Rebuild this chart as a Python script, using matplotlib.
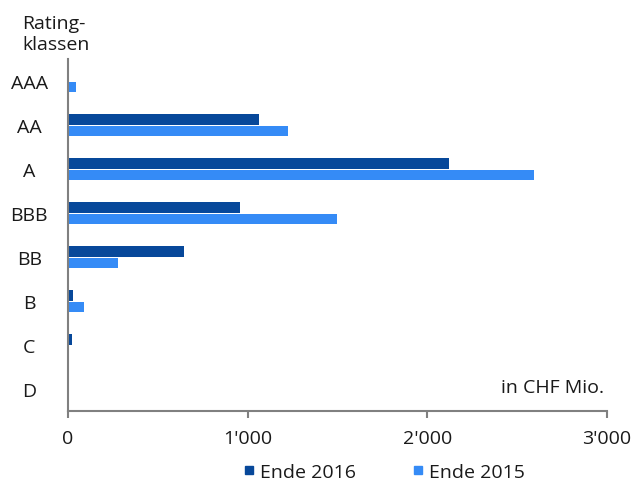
import numpy as np
import matplotlib
matplotlib.use("Agg")
import matplotlib.pyplot as plt
from matplotlib.lines import Line2D

plt.rcParams['font.family'] = ['Open Sans', 'DejaVu Sans']

categories = ["AAA", "AA", "A", "BBB", "BB", "B", "C", "D"]
ende_2016 = [0, 1065, 2120, 960, 645, 26, 24, 0]
ende_2015 = [45, 1225, 2595, 1500, 277, 91, 0, 0]
xticks = [0, 1000, 2000, 3000]
xtick_labels = ["0", "1'000", "2'000", "3'000"]

dark = "#07489A"
light = "#358BF6"
grey = "#808080"
txt = "#1a1a1a"
fs = 14

fig = plt.figure(figsize=(6.34, 4.89), dpi=100)
ax = fig.add_axes([0.1073, 0.157, 0.957 - 0.1073, 0.877 - 0.157])

y = np.arange(len(categories))
h = 0.24
ax.barh(y - 0.135, ende_2016, height=h, color=dark, label="Ende 2016")
ax.barh(y + 0.135, ende_2015, height=h, color=light, label="Ende 2015")

ax.set_xlim(0, 3000)
ax.set_ylim(len(categories) - 0.5, -0.5)

for s in ["top", "right"]:
    ax.spines[s].set_visible(False)
for s in ["left", "bottom"]:
    ax.spines[s].set_color(grey)
    ax.spines[s].set_linewidth(1.5)

ax.set_xticks(xticks)
ax.set_xticklabels(xtick_labels, fontsize=fs, color=txt)
ax.tick_params(axis="x", length=5, width=1.5, color=grey, pad=8)
ax.set_yticks(y)
ax.set_yticklabels(categories, fontsize=fs, color=txt, ha="center")
ax.tick_params(axis="y", length=0, pad=28)

fig.text(22 / 634, 1 - 50 / 489, "Rating-\nklassen", fontsize=fs, color=txt,
         ha="left", va="baseline", linespacing=1.2)
ax.text(0.995, 0.07, "in CHF Mio.", transform=ax.transAxes, fontsize=fs,
        color=txt, ha="right", va="center")

handles = [Line2D([], [], marker="s", ls="", color=dark, markersize=6),
           Line2D([], [], marker="s", ls="", color=light, markersize=6)]
fig.legend(handles, ["Ende 2016", "Ende 2015"], loc="center", ncol=2,
           bbox_to_anchor=(0.605, 1 - 473 / 489), frameon=False, fontsize=fs,
           handlelength=0.7, handletextpad=0.25, columnspacing=2.8,
           labelcolor=txt)

fig.savefig("out.png", dpi=100)
